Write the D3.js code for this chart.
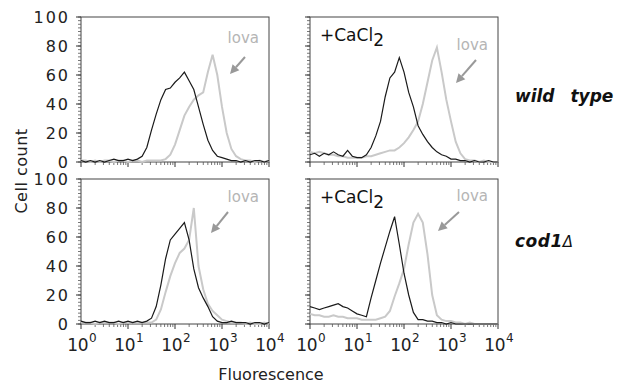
<!DOCTYPE html>
<html>
<head>
<meta charset="utf-8">
<script src="https://cdn.jsdelivr.net/npm/d3@7"></script>
<style>
  body { margin: 0; background: #fff; }
  text { font-family: "DejaVu Sans", sans-serif; }
</style>
</head>
<body>
<div id="graph"></div>
<script>
// histogram bins: 41 bins, one every 0.1 decade from 10^0 to 10^4
var binCount = 41;
var yTickValues = [0, 20, 40, 60, 80, 100];
var xTickExponents = [0, 1, 2, 3, 4];

// wild type, no CaCl2
var wtCtrl = [1,0,1,0,1,0,1,2,1,1, 2,1,2,4,10,22,33,43,50,51, 55,58,62,56,50,38,26,15,8,4, 3,2,1,1,0,1,0,1,1,0, 1];
var wtLova = [1,1,0,1,0,1,1,0,1,1, 0,1,1,0,1,1,1,1,2,5, 12,22,32,38,43,46,48,62,74,60, 38,20,9,4,2,1,1,0,1,0, 1];
// wild type, +CaCl2
var wtCaCtrl = [5,6,4,6,5,7,5,4,8,4, 3,3,5,10,18,28,45,58,62,72, 62,48,38,25,19,14,10,7,5,4, 2,2,1,1,0,1,0,0,1,0, 0];
var wtCaLova = [7,6,7,6,5,5,4,4,3,3, 3,3,4,4,5,6,7,8,8,10, 13,17,22,28,40,55,70,79,62,43, 28,14,6,2,1,1,0,1,0,0, 0];
// cod1 delta, no CaCl2
var codCtrl = [2,1,1,2,1,2,1,1,2,1, 2,1,2,1,2,4,12,27,45,58, 62,66,70,58,38,25,18,12,5,2, 1,1,2,1,1,1,0,1,1,0, 1];
var codLova = [1,1,1,0,1,1,1,1,0,1, 1,1,1,1,1,1,3,10,22,33, 42,49,52,58,80,40,24,14,9,6, 3,2,1,1,1,0,1,0,0,1, 0];
// cod1 delta, +CaCl2
var codCaCtrl = [12,11,10,11,12,13,14,12,11,9, 7,6,5,18,30,42,53,64,74,55, 35,20,8,3,3,2,2,1,1,0, 1,0,0,0,0,0,0,0,0,0, 0];
var codCaLova = [7,6,6,5,5,6,5,5,4,4, 4,3,3,3,3,4,5,9,19,28, 38,55,70,76,70,48,20,6,3,2, 2,1,1,0,1,0,0,0,0,0, 0];

var bins = d3.range(binCount).map(function (i) { return Math.pow(10, i / 10); });

var panels = [
  {x: 81,  y: 17,  ctrl: wtCtrl,    lova: wtLova,    ca: false, labels: false,
   lovaY: 26, arrow: [[245, 57], [230, 74]]},
  {x: 310, y: 17,  ctrl: wtCaCtrl,  lova: wtCaLova,  ca: true,  labels: false,
   lovaY: 33, arrow: [[476, 60], [456, 83]]},
  {x: 81,  y: 179, ctrl: codCtrl,   lova: codLova,   ca: false, labels: true,
   lovaY: 23, arrow: [[228, 212], [211, 233]]},
  {x: 310, y: 179, ctrl: codCaCtrl, lova: codCaLova, ca: true,  labels: true,
   lovaY: 22, arrow: [[459, 212], [438, 231]]}
];

var pw = 188, ph = 145;

var svg = d3.select('#graph')
  .append('svg')
  .attr('width', 618)
  .attr('height', 384);

var x = d3.scaleLog().domain([1, 10000]).range([0, pw]);
var y = d3.scaleLinear().domain([0, 100]).range([ph, 0]);

var line = d3.line()
  .x(function (d, i) { return x(bins[i]); })
  .y(function (d) { return y(d); });

var minorX = [];
xTickExponents.forEach(function (e) {
  if (e < 4) for (var m = 2; m < 10; m++) minorX.push(m * Math.pow(10, e));
});
var minorY = d3.range(0, 101, 2.5);

panels.forEach(function (p) {
  var g = svg.append('g')
    .attr('transform', 'translate(' + p.x + ',' + p.y + ')');

  // frame
  g.append('rect')
    .attr('width', pw)
    .attr('height', ph)
    .attr('fill', 'none')
    .attr('stroke', '#444')
    .attr('stroke-width', 1);

  // minor ticks
  g.selectAll('.my').data(minorY).enter().append('line')
    .attr('x1', -3).attr('x2', 0)
    .attr('y1', function (d) { return y(d); })
    .attr('y2', function (d) { return y(d); })
    .attr('stroke', '#555').attr('stroke-width', 0.8);
  g.selectAll('.mx').data(minorX).enter().append('line')
    .attr('y1', ph).attr('y2', ph + 3)
    .attr('x1', function (d) { return x(d); })
    .attr('x2', function (d) { return x(d); })
    .attr('stroke', '#555').attr('stroke-width', 0.8);

  // major ticks
  g.selectAll('.My').data(yTickValues).enter().append('line')
    .attr('x1', -5).attr('x2', 0)
    .attr('y1', function (d) { return y(d); })
    .attr('y2', function (d) { return y(d); })
    .attr('stroke', '#333').attr('stroke-width', 1);
  g.selectAll('.Mx').data(xTickExponents).enter().append('line')
    .attr('y1', ph).attr('y2', ph + 5)
    .attr('x1', function (d) { return x(Math.pow(10, d)); })
    .attr('x2', function (d) { return x(Math.pow(10, d)); })
    .attr('stroke', '#333').attr('stroke-width', 1);

  // histograms
  g.append('path')
    .datum(p.lova)
    .attr('d', line)
    .attr('fill', 'none')
    .attr('stroke', '#c9c9c9')
    .attr('stroke-width', 2);
  g.append('path')
    .datum(p.ctrl)
    .attr('d', line)
    .attr('fill', 'none')
    .attr('stroke', '#1a1a1a')
    .attr('stroke-width', 1.2);

  // y labels only on left column
  if (p.x < 200) {
    g.selectAll('.yl').data(yTickValues).enter().append('text')
      .attr('x', -11)
      .attr('y', function (d) { return y(d) + 6; })
      .attr('text-anchor', 'end')
      .style('font-size', '16px')
      .style('letter-spacing', '2px')
      .style('fill', '#222')
      .text(function (d) { return d; });
  }

  // x labels on bottom row
  if (p.labels) {
    var xl = g.selectAll('.xl').data(xTickExponents).enter().append('text')
      .attr('x', function (d) { return x(Math.pow(10, d)) + 1; })
      .attr('y', ph + 27)
      .attr('text-anchor', 'middle')
      .style('font-size', '17px')
      .style('fill', '#222');
    xl.append('tspan').style('letter-spacing', '-0.5px').text('10');
    xl.append('tspan')
      .attr('dy', -9)
      .attr('dx', 1)
      .style('font-size', '12px')
      .text(function (d) { return d; });
  }

  if (p.ca) {
    var ct = g.append('text')
      .attr('x', 10)
      .attr('y', 24)
      .style('font-size', '17px')
      .style('fill', '#111');
    ct.append('tspan').text('+CaCl');
    ct.append('tspan').attr('dy', 5).text('2');
  }

  g.append('text')
    .attr('x', pw - 10)
    .attr('y', p.lovaY)
    .attr('text-anchor', 'end')
    .style('font-size', '15px')
    .style('fill', '#b5b5b5')
    .text('lova');
});

// arrows pointing to the lova peaks
panels.forEach(function (p) {
  var a = p.arrow[0], b = p.arrow[1];
  var ang = Math.atan2(b[1] - a[1], b[0] - a[0]);
  var hl = 9, hw = 4.5;
  var bx = b[0] - hl * Math.cos(ang), by = b[1] - hl * Math.sin(ang);
  svg.append('line')
    .attr('x1', a[0]).attr('y1', a[1])
    .attr('x2', bx).attr('y2', by)
    .attr('stroke', '#999').attr('stroke-width', 2);
  svg.append('polygon')
    .attr('points', [
      [b[0], b[1]],
      [bx + hw * Math.sin(ang), by - hw * Math.cos(ang)],
      [bx - hw * Math.sin(ang), by + hw * Math.cos(ang)]
    ].map(function (q) { return q.join(','); }).join(' '))
    .attr('fill', '#999');
});

svg.append('text')
  .attr('transform', 'translate(27,171) rotate(-90)')
  .attr('text-anchor', 'middle')
  .style('font-size', '16px')
  .style('letter-spacing', '0.5px')
  .style('fill', '#222')
  .text('Cell count');

svg.append('text')
  .attr('x', 271)
  .attr('y', 380)
  .attr('text-anchor', 'middle')
  .style('font-size', '16px')
  .style('fill', '#222')
  .text('Fluorescence');

svg.append('text')
  .attr('x', 515)
  .attr('y', 102)
  .style('font-size', '17px')
  .style('font-weight', 'bold')
  .style('font-style', 'italic')
  .style('word-spacing', '10px')
  .style('fill', '#111')
  .text('wild type');

var cod = svg.append('text')
  .attr('x', 515)
  .attr('y', 247)
  .style('font-size', '17px')
  .style('font-style', 'italic')
  .style('fill', '#111');
cod.append('tspan').style('font-weight', 'bold').style('letter-spacing', '0.5px').text('cod1');
cod.append('tspan').style('font-weight', 'normal').style('font-size', '15px').text('\u0394');
</script>
</body>
</html>
